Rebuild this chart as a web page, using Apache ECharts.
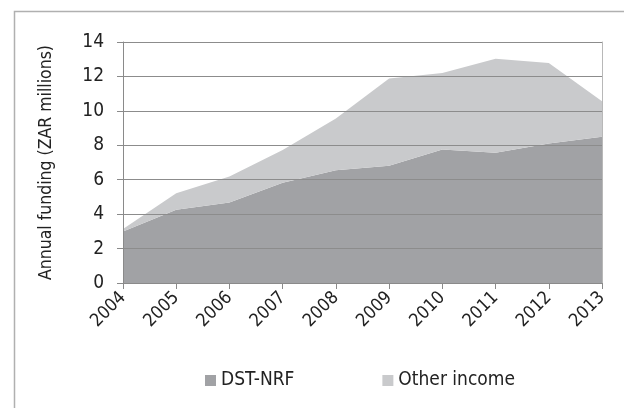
<!DOCTYPE html>
<html>
<head>
<meta charset="utf-8">
<script src="https://cdn.jsdelivr.net/npm/echarts@6/dist/echarts.min.js"></script>
<style>
html,body{margin:0;padding:0;background:#fff;}
#chart{width:624px;height:408px;}
</style>
</head>
<body>
<div id="chart"></div>
<script>
const years = ['2004','2005','2006','2007','2008','2009','2010','2011','2012','2013'];
const dstNrf = [2.99, 4.25, 4.67, 5.83, 6.55, 6.81, 7.76, 7.57, 8.11, 8.49];
const otherIncome = [0.14, 0.96, 1.51, 1.89, 3.01, 5.07, 4.44, 5.46, 4.67, 2.07];
const yTicks = [0, 2, 4, 6, 8, 10, 12, 14];

const FONT = '"Liberation Sans Narrow", "DejaVu Sans Condensed", sans-serif';
const chart = echarts.init(document.getElementById('chart'), null, {renderer: 'canvas'});
chart.setOption({
  animation: false,
  backgroundColor: '#fff',
  textStyle: {fontFamily: FONT},
  graphic: [{
    type: 'rect', left: 12, top: 9, z: 100,
    shape: {width: 700, height: 500},
    style: {fill: 'none', stroke: '#b0b0b0', lineWidth: 1.5}
  }],
  grid: {left: 123, right: 22, top: 42, bottom: 125},
  legend: {
    left: 200, top: 366,
    itemWidth: 11, itemHeight: 11, itemGap: 88,
    icon: 'rect',
    textStyle: {fontFamily: FONT, fontSize: 19, color: '#222'},
    data: ['DST-NRF', 'Other income']
  },
  xAxis: {
    type: 'category', data: years, boundaryGap: false,
    axisLine: {lineStyle: {color: '#8a8a8a', width: 1}},
    axisTick: {show: true, length: 6, lineStyle: {color: '#8a8a8a'}},
    axisLabel: {rotate: 45, margin: 12, fontFamily: FONT, fontSize: 18, color: '#222'},
    z: 10
  },
  yAxis: [{
    type: 'value', min: 0, max: 14, interval: 2,
    name: 'Annual funding (ZAR millions)', nameLocation: 'middle', nameGap: 68,
    nameTextStyle: {fontFamily: FONT, fontSize: 17.5, color: '#222'},
    axisLine: {show: true, lineStyle: {color: '#8a8a8a'}},
    axisTick: {show: true, length: 6, lineStyle: {color: '#8a8a8a'}},
    axisLabel: {margin: 19, fontFamily: FONT, fontSize: 19, color: '#222',
      formatter: v => yTicks.includes(v) ? String(v) : ''},
    splitLine: {show: true, lineStyle: {color: '#8c8c8c', width: 1}},
    z: 10
  }, {
    type: 'value', min: 0, max: 14, interval: 2, position: 'right',
    axisLine: {show: true, lineStyle: {color: '#b8b8b8'}},
    axisTick: {show: false}, axisLabel: {show: false}, splitLine: {show: false},
    z: 10
  }],
  series: [{
    name: 'DST-NRF', type: 'line', stack: 'total', data: dstNrf,
    symbol: 'none', lineStyle: {width: 0}, areaStyle: {color: '#a1a2a5', opacity: 1},
    itemStyle: {color: '#a1a2a5'}, z: 1
  }, {
    name: 'Other income', type: 'line', stack: 'total', data: otherIncome,
    symbol: 'none', lineStyle: {width: 0}, areaStyle: {color: '#c9cacc', opacity: 1},
    itemStyle: {color: '#c9cacc'}, z: 1
  }]
});
</script>
</body>
</html>
